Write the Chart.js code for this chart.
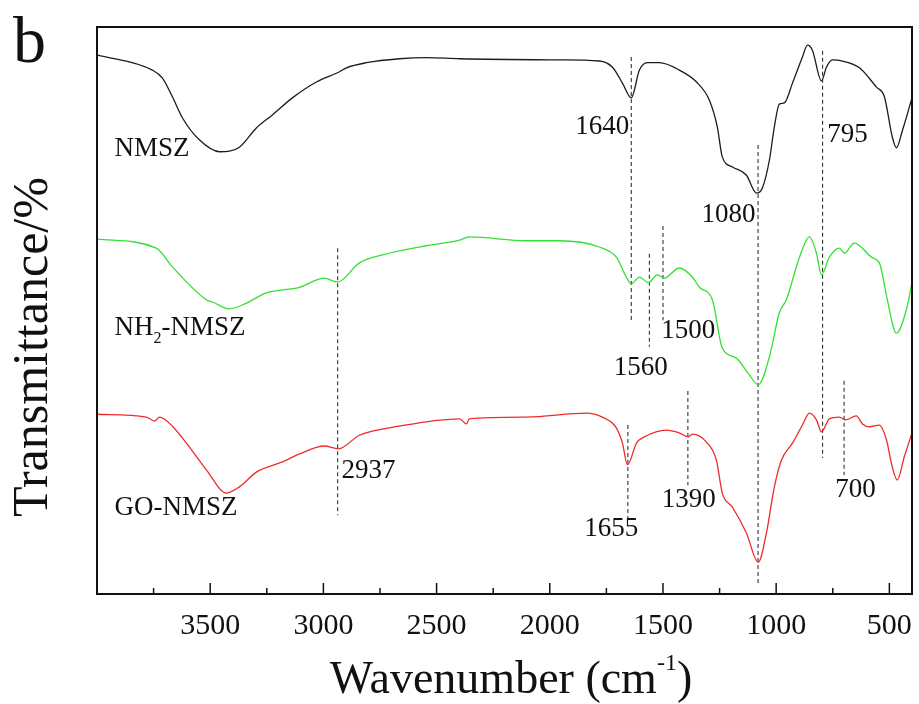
<!DOCTYPE html>
<html>
<head>
<meta charset="utf-8">
<script src="https://cdn.jsdelivr.net/npm/chart.js@4.4.0/dist/chart.umd.min.js"></script>
<style>
  html, body { margin: 0; padding: 0; background: #fff; }
</style>
</head>
<body>
<canvas id="ftir" width="919" height="704"></canvas>
<script>
// FTIR spectra (traces are offset, arbitrary transmittance units)
const wnNMSZ = [4000, 3755, 3711, 3667, 3623, 3548, 3459, 3371, 3296, 3225, 3137, 3031, 2929, 2898, 2810, 2664, 2545, 2399, 1958, 1781, 1723, 1679, 1640, 1604, 1569, 1516, 1428, 1352, 1295, 1260, 1238, 1193, 1132, 1087, 1061, 1030, 1008, 986, 964, 928, 884, 862, 840, 800, 778, 752, 707, 632, 557, 522, 487, 469, 442, 400];
const tNMSZ = [95.1, 92.4, 91.0, 87.7, 84.0, 80.1, 78.0, 78.8, 82.2, 84.5, 87.5, 90.3, 92.1, 92.8, 93.7, 94.4, 94.6, 94.4, 94.2, 94.0, 92.9, 90.1, 87.5, 92.4, 93.7, 93.7, 92.4, 90.3, 87.1, 82.4, 77.1, 75.3, 73.9, 70.7, 71.6, 76.5, 82.4, 86.4, 86.6, 90.1, 94.7, 96.8, 95.9, 90.5, 92.9, 94.2, 94.0, 92.8, 89.4, 87.7, 80.6, 78.7, 81.8, 87.5];

const wnNH2 = [4000, 3738, 3667, 3517, 3490, 3415, 3340, 3252, 3106, 2996, 2938, 2841, 2739, 2518, 2399, 2355, 2103, 1958, 1781, 1706, 1662, 1640, 1604, 1564, 1525, 1494, 1428, 1370, 1339, 1282, 1238, 1176, 1118, 1079, 1030, 986, 955, 897, 853, 822, 800, 765, 721, 699, 655, 575, 544, 509, 469, 425, 400];
const tNH2 = [62.6, 61.0, 57.7, 51.9, 51.5, 50.3, 51.3, 53.1, 54.1, 55.7, 55.0, 58.4, 59.8, 61.6, 62.4, 63.0, 62.3, 62.3, 61.2, 59.4, 55.9, 54.7, 55.9, 54.9, 56.3, 55.7, 57.5, 55.9, 54.1, 51.9, 43.4, 41.6, 38.6, 36.9, 41.8, 49.6, 51.9, 59.4, 63.0, 60.1, 56.3, 59.4, 61.0, 60.1, 61.9, 59.3, 58.4, 51.9, 46.0, 50.1, 54.9];

const wnGO = [4000, 3782, 3746, 3724, 3667, 3605, 3517, 3428, 3371, 3296, 3181, 3106, 2996, 2934, 2841, 2664, 2399, 2368, 2355, 2103, 1838, 1768, 1706, 1679, 1657, 1617, 1582, 1485, 1428, 1388, 1370, 1308, 1264, 1238, 1193, 1132, 1079, 1043, 1008, 977, 928, 884, 853, 822, 800, 765, 721, 694, 646, 619, 588, 544, 513, 487, 465, 434, 400];
const tGO = [31.7, 31.2, 30.5, 31.2, 29.6, 26.6, 21.9, 17.8, 18.9, 21.5, 23.3, 24.7, 26.1, 25.6, 28.0, 29.6, 30.9, 30.0, 30.9, 31.2, 31.9, 31.2, 29.3, 26.6, 22.8, 26.6, 27.7, 28.9, 28.4, 27.7, 28.2, 26.8, 23.6, 17.8, 15.3, 10.8, 5.6, 10.8, 18.9, 23.6, 26.6, 29.8, 31.9, 30.7, 28.6, 30.9, 31.2, 30.7, 31.4, 30.0, 29.5, 29.8, 27.2, 22.4, 20.1, 24.2, 28.4];

// dashed marker lines: wavenumber, top and bottom end
const markWn = [1640, 1080, 795, 2937, 1560, 1500, 1655, 1390, 700];
const markTop = [94.7, 79.2, 95.8, 61.0, 60.0, 64.9, 29.8, 35.8, 37.6];
const markBottom = [47.8, 1.9, 24.0, 13.9, 43.6, 48.3, 13.1, 19.2, 21.0];

// peak labels
const labelText = ['1640', '1080', '795', '2937', '1500', '1560', '1390', '1655', '700'];
const labelWn = [1768, 1211, 685, 2801, 1388, 1598, 1386, 1728, 650];
const labelT = [82.4, 66.8, 81.0, 21.7, 46.4, 39.9, 16.6, 11.5, 18.3];

// sample names
const nameWn = 3923;
const nameT = [78.5, 46.9, 15.2];

const xTicks = [3500, 3000, 2500, 2000, 1500, 1000, 500];

const serif = '"Liberation Serif", "Times New Roman", serif';

const pairs = (xs, ys) => xs.map((x, i) => ({ x: x, y: ys[i] }));

const curve = (data, color) => ({
  data: data,
  borderColor: color,
  borderWidth: 1.3,
  pointRadius: 0,
  showLine: true,
  fill: false,
  cubicInterpolationMode: 'monotone'
});

const markSets = markWn.map((w, i) => ({
  data: [{ x: w, y: markTop[i] }, { x: w, y: markBottom[i] }],
  borderColor: '#333',
  borderWidth: 1.1,
  borderDash: [4, 3],
  pointRadius: 0,
  showLine: true,
  fill: false
}));

const decor = {
  id: 'decor',
  afterDraw(chart) {
    const ctx = chart.ctx;
    const a = chart.chartArea;
    const xs = chart.scales.x;
    const ys = chart.scales.y;
    ctx.save();

    // frame
    ctx.strokeStyle = '#111';
    ctx.lineWidth = 2;
    ctx.strokeRect(a.left, a.top, a.right - a.left, a.bottom - a.top);

    // inward ticks on the bottom axis
    ctx.lineWidth = 1.5;
    for (let w = 500; w <= 3750; w += 250) {
      const px = xs.getPixelForValue(w);
      const len = w % 500 === 0 ? 11 : 6;
      ctx.beginPath();
      ctx.moveTo(px, a.bottom);
      ctx.lineTo(px, a.bottom - len);
      ctx.stroke();
    }

    ctx.fillStyle = '#111';

    // peak labels
    ctx.font = '27px ' + serif;
    ctx.textAlign = 'center';
    ctx.textBaseline = 'middle';
    labelText.forEach((t, i) => {
      ctx.fillText(t, xs.getPixelForValue(labelWn[i]), ys.getPixelForValue(labelT[i]));
    });

    // sample names
    ctx.textAlign = 'left';
    const nx = xs.getPixelForValue(nameWn);
    ctx.fillText('NMSZ', nx, ys.getPixelForValue(nameT[0]));
    const ny = ys.getPixelForValue(nameT[1]);
    ctx.fillText('NH', nx, ny);
    const w1 = ctx.measureText('NH').width;
    ctx.font = '16px ' + serif;
    ctx.fillText('2', nx + w1, ny + 11);
    const w2 = ctx.measureText('2').width;
    ctx.font = '27px ' + serif;
    ctx.fillText('-NMSZ', nx + w1 + w2, ny);
    ctx.fillText('GO-NMSZ', nx, ys.getPixelForValue(nameT[2]));

    // x title with superscript
    ctx.textBaseline = 'alphabetic';
    const big = '46px ' + serif, small = '24px ' + serif;
    ctx.font = big;
    const mainW = ctx.measureText('Wavenumber (cm').width;
    const closeW = ctx.measureText(')').width;
    ctx.font = small;
    const supW = ctx.measureText('-1').width;
    const sx = 511 - (mainW + supW + closeW) / 2;
    ctx.font = big;
    ctx.fillText('Wavenumber (cm', sx, 693);
    ctx.font = small;
    ctx.fillText('-1', sx + mainW, 670);
    ctx.font = big;
    ctx.fillText(')', sx + mainW + supW, 693);

    // y title
    ctx.save();
    ctx.translate(47, 347);
    ctx.rotate(-Math.PI / 2);
    ctx.textAlign = 'center';
    ctx.font = '50px ' + serif;
    ctx.fillText('Transmittance/%', 0, 0);
    ctx.restore();

    // panel letter
    ctx.font = '66px ' + serif;
    ctx.textAlign = 'left';
    ctx.fillText('b', 13, 62);

    ctx.restore();
  }
};

new Chart(document.getElementById('ftir').getContext('2d'), {
  type: 'scatter',
  data: {
    datasets: [
      curve(pairs(wnNMSZ, tNMSZ), '#1c1c1c'),
      curve(pairs(wnNH2, tNH2), '#33e033'),
      curve(pairs(wnGO, tGO), '#f02a2a')
    ].concat(markSets)
  },
  options: {
    responsive: false,
    animation: false,
    layout: { padding: { left: 97, right: 7, top: 27, bottom: 0 } },
    plugins: {
      legend: { display: false },
      tooltip: { enabled: false }
    },
    scales: {
      x: {
        type: 'linear',
        reverse: true,
        min: 400,
        max: 4000,
        afterBuildTicks: s => { s.ticks = xTicks.map(v => ({ value: v })); },
        afterFit: s => { s.height = 110; s.paddingLeft = 0; s.paddingRight = 0; },
        grid: { display: false, drawTicks: false },
        border: { display: false },
        ticks: {
          font: { family: serif, size: 30 },
          color: '#111',
          padding: 14,
          maxRotation: 0,
          autoSkip: false,
          callback: v => String(v)
        }
      },
      y: { display: false, min: 0, max: 100 }
    }
  },
  plugins: [decor]
});
</script>
</body>
</html>
